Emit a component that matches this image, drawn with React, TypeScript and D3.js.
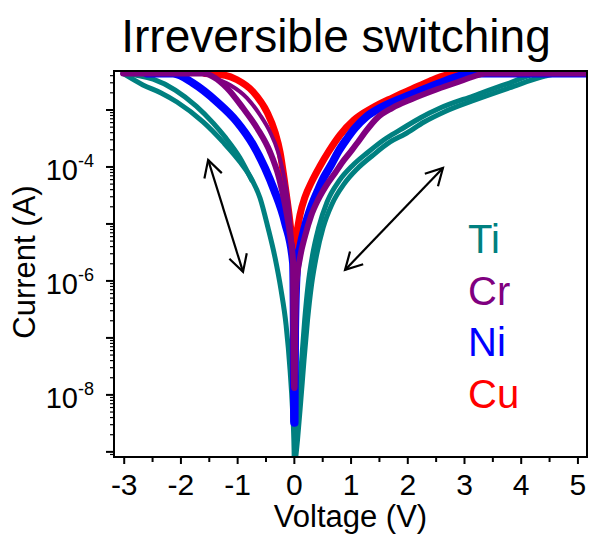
import React, { useEffect, useRef } from 'react';
import * as d3 from 'd3';

type Pt = [number, number];

// [voltage (V), current (A)]
const tiOuter: Pt[] = [
  [-3.02, 4.37e-3], [-2.67, 2.75e-3], [-2.35, 1.99e-3], [-2.07, 1.38e-3], [-1.61, 6.17e-4],
  [-1.26, 2.75e-4], [-0.96, 1.23e-4], [-0.746, 5.92e-5], [-0.605, 2.86e-5], [-0.464, 8.51e-6],
  [-0.34, 2.54e-6], [-0.235, 6.95e-7], [-0.146, 1.69e-7], [-0.076, 2.75e-8], [-0.032, 5.46e-9],
  [-0.005, 1.08e-9], [0, 4.8e-10], [0.03, 1.63e-9], [0.079, 8.17e-9], [0.129, 4.11e-8],
  [0.182, 2.07e-7], [0.242, 8.51e-7], [0.321, 2.86e-6], [0.427, 8.51e-6], [0.577, 2.43e-5],
  [0.788, 5.68e-5], [1.018, 1.04e-4], [1.282, 1.76e-4], [1.6, 3.1e-4], [1.864, 4.46e-4],
  [2.217, 7.24e-4], [2.57, 1.08e-3], [3.152, 1.76e-3], [3.751, 2.86e-3], [4.333, 4.37e-3],
  [4.92, 4.37e-3],
];
const tiInner: Pt[] = [
  [-3.02, 4.37e-3], [-2.49, 3.47e-3], [-2.1, 2.24e-3], [-1.73, 1.17e-3], [-1.43, 5.89e-4],
  [-1.21, 3.24e-4], [-0.96, 1.45e-4], [-0.75, 5.8e-5],
];
const tiReturn: Pt[] = [
  [0, 4.8e-10], [0.056, 1.63e-9], [0.115, 8.17e-9], [0.171, 4.11e-8], [0.233, 2.07e-7],
  [0.303, 8.51e-7], [0.392, 2.86e-6], [0.506, 8.51e-6], [0.665, 2.24e-5], [0.877, 5.04e-5],
  [1.106, 9.23e-5], [1.37, 1.56e-4], [1.688, 2.75e-4], [1.952, 3.79e-4], [2.287, 6.15e-4],
  [2.64, 9.23e-4], [3.187, 1.5e-3], [3.787, 2.43e-3], [4.422, 3.94e-3], [4.686, 4.37e-3],
  [4.95, 4.37e-3],
];
const cuSweep: Pt[] = [
  [-1.58, 4.37e-3], [-1.222, 4.07e-3], [-1.011, 3.39e-3], [-0.728, 2.09e-3], [-0.481, 9.12e-4],
  [-0.34, 4.07e-4], [-0.252, 1.82e-4], [-0.164, 4.79e-5], [-0.093, 1.45e-5], [-0.041, 5.25e-6],
  [0, 2.51e-6], [0.03, 5.25e-6], [0.1, 1.45e-5], [0.189, 2.98e-5], [0.312, 5.68e-5],
  [0.453, 1.04e-4], [0.612, 1.91e-4], [0.806, 3.64e-4], [1.053, 6.68e-4], [1.37, 1.08e-3],
  [1.723, 1.62e-3], [2.076, 2.33e-3], [2.393, 3.23e-3], [2.693, 4.11e-3], [2.922, 4.37e-3],
];
const niSweep: Pt[] = [
  [-2.6, 4.37e-3], [-2.14, 4.37e-3], [-1.787, 2.95e-3], [-1.363, 1.38e-3], [-1.011, 6.17e-4],
  [-0.728, 2.45e-4], [-0.517, 9.55e-5], [-0.358, 3.98e-5], [-0.164, 1.05e-5], [-0.023, 2.09e-6],
  [-0.009, 1.38e-7], [-0.004, 3.24e-9], [0.004, 3.24e-9], [0.012, 1.38e-7], [0.048, 1.76e-6],
  [0.1, 3.79e-6], [0.189, 9.23e-6], [0.295, 1.99e-5], [0.418, 3.94e-5], [0.524, 6.68e-5],
  [0.647, 1.08e-4], [0.771, 1.83e-4], [0.912, 2.98e-4], [1.071, 4.83e-4], [1.265, 7.53e-4],
  [1.511, 1.08e-3], [1.864, 1.56e-3], [2.252, 2.24e-3], [2.658, 3.23e-3], [2.975, 4.11e-3],
  [3.187, 4.37e-3], [5.2, 4.37e-3],
];
const crSweep: Pt[] = [
  [-3.02, 4.37e-3], [-1.61, 4.37e-3], [-1.187, 2.43e-3], [-0.905, 1.08e-3], [-0.658, 4.83e-4],
  [-0.429, 1.83e-4], [-0.27, 6.41e-5], [-0.164, 2.15e-5], [-0.076, 6.41e-6], [-0.023, 2.15e-6],
  [-0.018, 2.09e-7], [-0.004, 1.32e-8], [0.004, 1.32e-8], [0.018, 2.09e-7], [0.039, 9.12e-7],
  [0.1, 2.54e-6], [0.189, 6.15e-6], [0.295, 1.38e-5], [0.418, 2.64e-5], [0.559, 4.65e-5],
  [0.718, 7.85e-5], [0.877, 1.33e-4], [1.018, 1.99e-4], [1.123, 2.75e-4], [1.265, 4.29e-4],
  [1.459, 7.24e-4], [1.723, 1.08e-3], [2.076, 1.56e-3], [2.481, 2.24e-3], [2.887, 3.1e-3],
  [3.134, 3.79e-3], [3.363, 4.37e-3], [5.12, 4.37e-3],
];
const crInner: Pt[] = [
  [-1.54, 4.37e-3], [-1.363, 3.5e-3], [-1.134, 2.75e-3], [-0.834, 1.62e-3], [-0.605, 8.17e-4],
  [-0.429, 4.11e-4], [-0.287, 1.83e-4], [-0.199, 8.17e-5], [-0.111, 2.64e-5], [-0.041, 5.25e-6],
];

// double-headed arrows, ends in data units
const arrowLeft: Pt[] = [[-1.52, 1.33e-4], [-0.905, 1.44e-6]];
const arrowRight: Pt[] = [[0.894, 1.56e-6], [2.62, 9.6e-5]];

const legendNames = ['Ti', 'Cr', 'Ni', 'Cu'];
const legendColors = ['#008080', '#800080', '#0000ff', '#ff0000'];
const xTickValues = [-3, -2, -1, 0, 1, 2, 3, 4, 5];
const yLabelExponents = [-4, -6, -8];

const FONT = '"Liberation Sans", Arial, Helvetica, sans-serif';

const App = () => {
  const svgRef = useRef<SVGSVGElement>(null);

  useEffect(() => {
    if (!svgRef.current) return;
    const root = d3.select(svgRef.current);
    root.selectAll('*').remove();

    const width = 590;
    const height = 541;
    const margin = { top: 71, right: 3, bottom: 84, left: 114 };
    const innerWidth = width - margin.left - margin.right;
    const innerHeight = height - margin.top - margin.bottom;

    const x = d3.scaleLinear().domain([-3.18, 5.16]).range([0, innerWidth]);
    const y = d3.scaleLog().domain([Math.pow(10, -9.09), Math.pow(10, -2.316)]).range([innerHeight, 0]);

    const svg = root.append('g').attr('transform', `translate(${margin.left},${margin.top})`);

    svg.append('defs').append('clipPath').attr('id', 'plot-clip')
      .append('rect').attr('width', innerWidth).attr('height', innerHeight);

    const line = d3.line<Pt>()
      .x(d => x(d[0]))
      .y(d => y(d[1]))
      .curve(d3.curveMonotoneX);

    const curves = svg.append('g').attr('clip-path', 'url(#plot-clip)');
    const series: { data: Pt[]; color: string; w: number }[] = [
      { data: tiOuter, color: legendColors[0], w: 5 },
      { data: tiInner, color: legendColors[0], w: 5 },
      { data: tiReturn, color: legendColors[0], w: 5 },
      { data: cuSweep, color: legendColors[3], w: 7 },
      { data: niSweep, color: legendColors[2], w: 8 },
      { data: crSweep, color: legendColors[1], w: 6 },
      { data: crInner, color: legendColors[1], w: 4 },
    ];
    series.forEach(s => {
      curves.append('path')
        .datum(s.data)
        .attr('fill', 'none')
        .attr('stroke', s.color)
        .attr('stroke-width', s.w)
        .attr('stroke-linejoin', 'round')
        .attr('stroke-linecap', 'round')
        .attr('d', line);
    });

    // arrows
    const drawArrow = (pts: Pt[]) => {
      const [a, b] = pts.map(p => [x(p[0]), y(p[1])]);
      svg.append('line')
        .attr('x1', a[0]).attr('y1', a[1]).attr('x2', b[0]).attr('y2', b[1])
        .attr('stroke', '#000').attr('stroke-width', 2.2);
      const head = (tip: number[], from: number[]) => {
        const ang = Math.atan2(from[1] - tip[1], from[0] - tip[0]);
        const len = 19;
        const spread = 0.5;
        const p1 = [tip[0] + len * Math.cos(ang - spread), tip[1] + len * Math.sin(ang - spread)];
        const p2 = [tip[0] + len * Math.cos(ang + spread), tip[1] + len * Math.sin(ang + spread)];
        svg.append('path')
          .attr('d', `M${p1[0]},${p1[1]}L${tip[0]},${tip[1]}L${p2[0]},${p2[1]}`)
          .attr('fill', 'none').attr('stroke', '#000').attr('stroke-width', 2.2);
      };
      head(a, b);
      head(b, a);
    };
    drawArrow(arrowLeft);
    drawArrow(arrowRight);

    // frame
    svg.append('rect')
      .attr('width', innerWidth).attr('height', innerHeight)
      .attr('fill', 'none').attr('stroke', '#000').attr('stroke-width', 2);

    // x axis ticks
    const xMinor = d3.range(-2.5, 5.01, 1);
    svg.append('g').selectAll('line.xmaj').data(xTickValues).enter().append('line')
      .attr('x1', d => x(d)).attr('x2', d => x(d))
      .attr('y1', innerHeight).attr('y2', innerHeight + 7)
      .attr('stroke', '#000').attr('stroke-width', 2);
    svg.append('g').selectAll('line.xmin').data(xMinor).enter().append('line')
      .attr('x1', d => x(d)).attr('x2', d => x(d))
      .attr('y1', innerHeight).attr('y2', innerHeight + 5)
      .attr('stroke', '#000').attr('stroke-width', 2);
    svg.append('g').selectAll('text').data(xTickValues).enter().append('text')
      .attr('x', d => x(d))
      .attr('y', innerHeight + 38)
      .attr('text-anchor', 'middle')
      .style('font-family', FONT)
      .style('font-size', '30px')
      .text(d => String(d));

    // y axis ticks (log)
    const yMajor = d3.range(-9, -2).map(e => Math.pow(10, e));
    const yMinor: number[] = [];
    d3.range(-10, -2).forEach(e => {
      d3.range(2, 10).forEach(k => {
        const v = k * Math.pow(10, e);
        if (v >= y.domain()[0] && v <= y.domain()[1]) yMinor.push(v);
      });
    });
    svg.append('g').selectAll('line').data(yMajor).enter().append('line')
      .attr('x1', -8).attr('x2', 0)
      .attr('y1', d => y(d)).attr('y2', d => y(d))
      .attr('stroke', '#000').attr('stroke-width', 2);
    svg.append('g').selectAll('line').data(yMinor).enter().append('line')
      .attr('x1', -4).attr('x2', 0)
      .attr('y1', d => y(d)).attr('y2', d => y(d))
      .attr('stroke', '#000').attr('stroke-width', 1.2);
    const yLab = svg.append('g').selectAll('text').data(yLabelExponents).enter().append('text')
      .attr('x', -20)
      .attr('y', d => y(Math.pow(10, d)) + 13)
      .attr('text-anchor', 'end')
      .style('font-family', FONT)
      .style('font-size', '29px');
    yLab.append('tspan').text('10');
    yLab.append('tspan').attr('dy', -13).style('font-size', '18px').text(d => String(d));

    // axis titles
    svg.append('text')
      .attr('x', innerWidth / 2)
      .attr('y', innerHeight + 70)
      .attr('text-anchor', 'middle')
      .style('font-family', FONT)
      .style('font-size', '31px')
      .text('Voltage (V)');
    svg.append('text')
      .attr('transform', `translate(${35 - margin.left},${262 - margin.top}) rotate(-90)`)
      .attr('text-anchor', 'middle')
      .style('font-family', FONT)
      .style('font-size', '31px')
      .text('Current (A)');

    // title
    root.append('text')
      .attr('x', 336)
      .attr('y', 52)
      .attr('text-anchor', 'middle')
      .style('font-family', FONT)
      .style('font-size', '46px')
      .text('Irreversible switching');

    // legend
    legendNames.forEach((name, i) => {
      svg.append('text')
        .attr('x', 354)
        .attr('y', 182 + i * 51.7)
        .attr('fill', legendColors[i])
        .style('font-family', FONT)
        .style('font-size', '40px')
        .text(name);
    });
  }, []);

  return (
    <svg
      ref={svgRef}
      width={590}
      height={541}
      style={{ position: 'absolute', left: 0, top: 0, background: '#fff' }}
    />
  );
};

export default App;
